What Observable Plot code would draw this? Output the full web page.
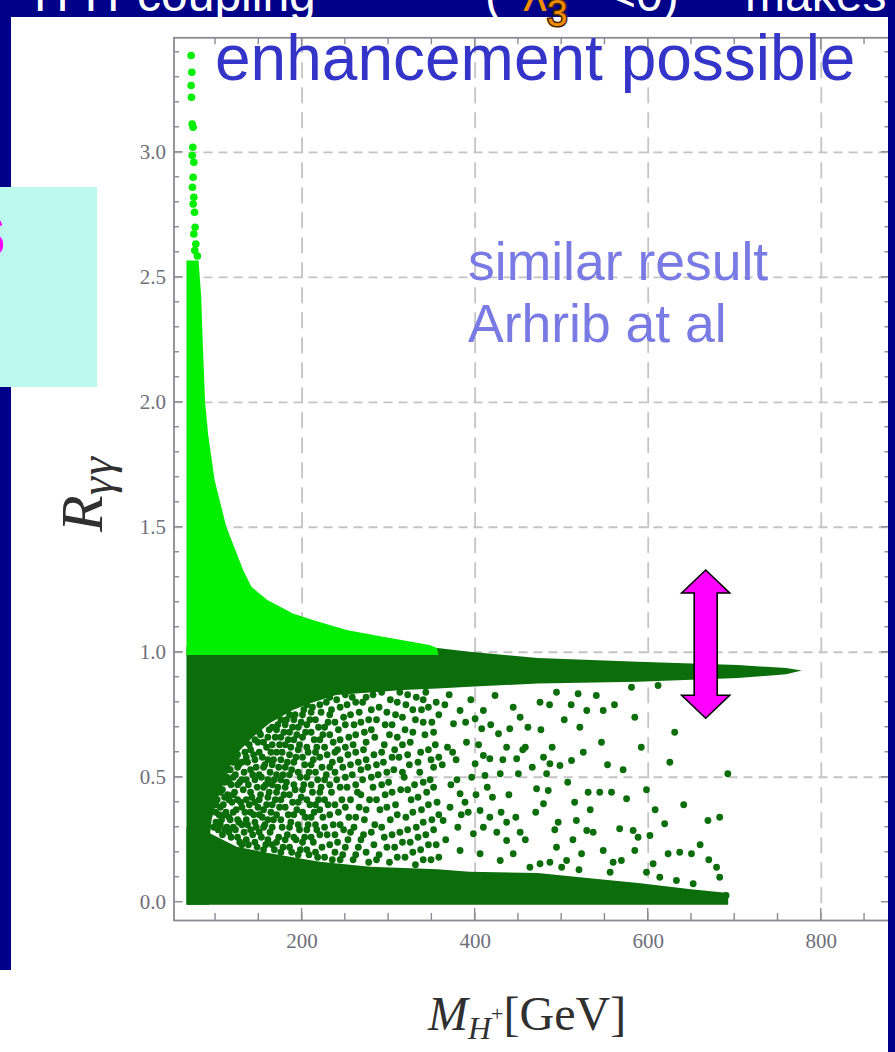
<!DOCTYPE html>
<html>
<head>
<meta charset="utf-8">
<script src="https://cdn.jsdelivr.net/npm/d3@7"></script>
<script src="https://cdn.jsdelivr.net/npm/@observablehq/plot@0.6"></script>
<style>
  html, body { margin: 0; padding: 0; background: #ffffff; }
  #slide { position: relative; width: 895px; height: 1052px; overflow: hidden; background: #ffffff; }
  #chart { position: absolute; left: 0; top: 0; }
  .navy { position: absolute; background: #000088; }
  #notes { position: absolute; left: 0; top: 0; }
</style>
</head>
<body>
<div id="slide">
  <div id="chart"></div>
  <div class="navy" style="left:0;top:0;width:895px;height:17px"></div>
  <div class="navy" style="left:0;top:0;width:11px;height:970px"></div>
  <div class="navy" style="left:888px;top:0;width:7px;height:1052px"></div>
  <div style="position:absolute;left:0;top:187px;width:97px;height:200px;background:#bdf9ef"></div>
  <svg id="notes" width="895" height="1052">
    <g font-family="'Liberation Sans', Arial, sans-serif" fill="#ffffff" font-size="48">
      <text x="34" y="11">H⁺H⁻</text>
      <text x="137" y="11">coupling</text>
      <text x="485" y="11">(</text>
      <text x="608" y="11">&lt;0)</text>
      <text x="745" y="11">makes</text>
    </g>
    <text x="523" y="11" font-family="'Liberation Sans', Arial, sans-serif" font-size="48" fill="#f08c00">λ<tspan dy="15" font-size="37" stroke="#4a2400" stroke-width="3" paint-order="stroke">3</tspan></text>
    <text x="-38" y="257" font-family="'Liberation Sans', Arial, sans-serif" font-weight="bold" font-size="80" fill="#ff00ff">s</text>
    <g font-family="'Liberation Sans', Arial, sans-serif">
      <text x="215" y="80" font-size="64" fill="#3434c8">enhancement possible</text>
      <text x="468" y="280" font-size="53.5" fill="#7a7ae4">similar result</text>
      <text x="468" y="342" font-size="53.5" fill="#7a7ae4">Arhrib at al</text>
    </g>
    <g font-family="'Liberation Serif', 'DejaVu Serif', serif" fill="#303030">
      <text x="428" y="1030" font-size="48"><tspan font-style="italic">M</tspan><tspan font-style="italic" font-size="32" dy="9">H</tspan><tspan font-size="22" dy="-18">+</tspan><tspan dy="9">[GeV]</tspan></text>
      <text transform="translate(102,532) rotate(-90)" font-size="60"><tspan font-style="italic">R</tspan><tspan font-style="italic" font-size="46" dy="10" letter-spacing="2">γγ</tspan></text>
    </g>
  </svg>
</div>
<script>
// Axis extent, ticks and grid
const xDomain = [52, 880];
const yDomain = [-0.073, 3.458];
const xMajorTicks = [200, 400, 600, 800];
const xMinorTicks = [100, 150, 250, 300, 350, 450, 500, 550, 650, 700, 750, 850];
const yMajorTicks = [0, 0.5, 1, 1.5, 2, 2.5, 3];
const yMinorTicks = [0.1, 0.2, 0.3, 0.4, 0.6, 0.7, 0.8, 0.9, 1.1, 1.2, 1.3, 1.4, 1.6, 1.7, 1.8, 1.9,
                     2.1, 2.2, 2.3, 2.4, 2.6, 2.7, 2.8, 2.9, 3.1, 3.2, 3.3, 3.4];
const gridX = [200, 400, 600, 800];
const gridY = [0.5, 1, 1.5, 2, 2.5, 3];

// Enhanced points (R > 1): upper envelope of the dense cloud, M_H+ in GeV
const greenM   = [67, 81, 84, 86, 88.5, 92, 99.5, 113, 132.5, 142, 160.5, 190, 213, 252, 294, 348, 356.5, 358];
const greenTop = [2.565, 2.565, 2.42, 2.22, 2.0, 1.87, 1.687, 1.5, 1.327, 1.26, 1.207, 1.153, 1.127, 1.087, 1.06, 1.027, 1.015, 0.99];
const greenBase = 0.987;
// sparse enhanced points at the light end of the spectrum
const greenTail = [[71.8, 3.387], [72.6, 3.32], [71.8, 3.267], [72.2, 3.22], [73, 3.113], [74.1, 3.1],
  [73.7, 3.02], [73, 2.987], [74.9, 2.96], [74.1, 2.9], [73.3, 2.86], [74.9, 2.82], [74.1, 2.793],
  [75.7, 2.76], [76.4, 2.7], [74.9, 2.673], [77.2, 2.633], [76, 2.607], [79, 2.585]];

// Suppressed points (R < 1): dense band just below 1
const bandM   = [67, 93, 94, 96, 102, 110, 117, 129, 144, 163, 190, 210, 240, 317, 357, 394, 473, 589, 704, 760, 778];
const bandTop = [1.02, 1.02, 1.02, 1.02, 1.02, 1.02, 1.02, 1.02, 1.02, 1.02, 1.02, 1.02, 1.02, 1.02, 1.015, 1.0, 0.975, 0.96, 0.947, 0.935, 0.925];
const bandLow = [-0.012, -0.012, 0.26, 0.327, 0.407, 0.474, 0.54, 0.607, 0.66, 0.714, 0.767, 0.794, 0.827, 0.847, 0.853, 0.86, 0.873, 0.88, 0.895, 0.91, 0.925];
// dense floor near R = 0
const floorM   = [67, 94, 125, 163, 221, 279, 357, 394, 473, 530, 589, 650, 693];
const floorTop = [0.30, 0.274, 0.22, 0.194, 0.16, 0.14, 0.13, 0.12, 0.115, 0.095, 0.075, 0.05, 0.035];
const floorBase = -0.012;

// scattered suppressed points between the floor and the band
const scatterPoints = [
  [98,0.30],[100,0.36],[103,0.29],[104,0.35],[102,0.41],
  [108,0.27],[107,0.33],[109,0.39],[108,0.45],[113,0.30],[112,0.36],[114,0.43],[113,0.50],
  [118,0.26],[117,0.33],[119,0.40],[118,0.47],[117,0.53],[123,0.29],[124,0.37],[122,0.44],[123,0.51],[124,0.57],
  [128,0.24],[127,0.32],[129,0.40],[128,0.48],[127,0.55],[133,0.28],[134,0.36],[132,0.45],[133,0.52],[134,0.60],
  [138,0.23],[137,0.31],[139,0.39],[138,0.47],[137,0.56],[139,0.63],[143,0.27],[144,0.35],[142,0.42],[143,0.51],[144,0.59],
  [148,0.22],[147,0.30],[149,0.38],[148,0.46],[147,0.54],[149,0.64],[153,0.26],[154,0.34],[152,0.43],[153,0.50],[154,0.58],[152,0.67],
  [158,0.23],[157,0.31],[159,0.39],[158,0.47],[157,0.55],[159,0.62],[163,0.28],[164,0.36],[162,0.44],[163,0.52],[164,0.60],[162,0.69],
  [168,0.21],[167,0.33],[169,0.41],[168,0.49],[167,0.57],[169,0.66],[173,0.26],[174,0.38],[172,0.46],[173,0.54],[174,0.63],[172,0.71],
  [178,0.22],[177,0.30],[179,0.43],[178,0.51],[177,0.60],[179,0.68],[183,0.27],[184,0.35],[182,0.48],[183,0.56],[184,0.65],[182,0.73],
  [188,0.20],[187,0.32],[189,0.40],[188,0.53],[187,0.62],[189,0.70],[193,0.25],[194,0.37],[192,0.45],[193,0.58],[194,0.67],[192,0.75],
  [198,0.21],[197,0.29],[199,0.42],[198,0.50],[197,0.63],[199,0.72],[203,0.26],[204,0.34],[202,0.47],[203,0.55],[204,0.68],[202,0.77],
  [208,0.19],[207,0.31],[209,0.39],[208,0.52],[207,0.60],[209,0.73],[213,0.24],[214,0.36],[212,0.44],[213,0.57],[214,0.65],[212,0.78],
  [218,0.18],[217,0.29],[219,0.41],[218,0.49],[217,0.62],[219,0.70],[223,0.22],[224,0.34],[222,0.46],[223,0.54],[224,0.67],[222,0.76],
  [229,0.27],[230,0.39],[228,0.51],[229,0.59],[230,0.72],[228,0.80],[235,0.17],[236,0.31],[234,0.44],[235,0.56],[236,0.64],[234,0.77],
  [241,0.24],[242,0.36],[240,0.49],[241,0.61],[242,0.69],[240,0.81],[247,0.19],[248,0.29],[246,0.41],[247,0.54],[248,0.74],
  [253,0.25],[254,0.34],[252,0.46],[253,0.59],[254,0.66],[252,0.79],[259,0.17],[260,0.30],[258,0.51],[259,0.63],[260,0.71],[258,0.82],
  [265,0.22],[266,0.38],[264,0.44],[265,0.56],[266,0.76],[271,0.27],[272,0.33],[270,0.49],[271,0.61],[272,0.68],[270,0.80],
  [277,0.16],[278,0.41],[276,0.54],[277,0.73],[283,0.23],[284,0.31],[282,0.46],[283,0.59],[284,0.66],[282,0.83],
  [289,0.19],[290,0.37],[288,0.51],[289,0.78],[295,0.26],[296,0.43],[294,0.56],[295,0.63],[296,0.71],
  [301,0.16],[302,0.33],[300,0.48],[301,0.67],[302,0.81],[307,0.22],[308,0.39],[306,0.53],[307,0.61],[308,0.75],
  [313,0.28],[314,0.45],[312,0.58],[313,0.84],[319,0.18],[320,0.34],[318,0.50],[319,0.69],[320,0.79],
  [325,0.24],[326,0.41],[324,0.55],[325,0.64],[331,0.15],[332,0.30],[330,0.47],[331,0.73],[332,0.82],
  [337,0.21],[338,0.37],[336,0.52],[337,0.60],[338,0.77],[343,0.27],[344,0.44],[342,0.67],[343,0.84],
  [349,0.17],[350,0.33],[348,0.49],[349,0.57],[350,0.72],[355,0.23],[356,0.40],[354,0.63],[355,0.80],
  [100.5,0.32],[100.5,0.39],[105.5,0.31],[105.5,0.38],[105.5,0.44],[110.5,0.29],[110.5,0.35],[110.5,0.42],[110.5,0.48],
  [115.5,0.28],[115.5,0.34],[115.5,0.41],[115.5,0.48],[115.5,0.53],[120.5,0.30],[120.5,0.36],[120.5,0.43],[120.5,0.50],[120.5,0.56],
  [125.5,0.26],[125.5,0.33],[125.5,0.41],[125.5,0.47],[125.5,0.54],[125.5,0.59],[130.5,0.23],[130.5,0.31],[130.5,0.38],[130.5,0.49],[130.5,0.56],
  [135.5,0.25],[135.5,0.33],[135.5,0.41],[135.5,0.49],[135.5,0.58],[135.5,0.64],[140.5,0.29],[140.5,0.36],[140.5,0.44],[140.5,0.53],[140.5,0.61],
  [145.5,0.24],[145.5,0.32],[145.5,0.40],[145.5,0.49],[145.5,0.57],[145.5,0.65],[150.5,0.28],[150.5,0.35],[150.5,0.41],[150.5,0.51],[150.5,0.60],[150.5,0.68],
  [155.5,0.21],[155.5,0.30],[155.5,0.37],[155.5,0.46],[155.5,0.54],[155.5,0.64],[160.5,0.25],[160.5,0.33],[160.5,0.42],[160.5,0.49],[160.5,0.57],[160.5,0.66],
  [165.5,0.23],[165.5,0.30],[165.5,0.39],[165.5,0.47],[165.5,0.55],[165.5,0.63],[165.5,0.70],[170.5,0.24],[170.5,0.35],[170.5,0.44],[170.5,0.51],[170.5,0.60],[170.5,0.69],
  [175.5,0.20],[175.5,0.33],[175.5,0.41],[175.5,0.49],[175.5,0.57],[175.5,0.66],[175.5,0.73],[180.5,0.25],[180.5,0.38],[180.5,0.46],[180.5,0.54],[180.5,0.63],[180.5,0.71],
  [185.5,0.22],[185.5,0.30],[185.5,0.43],[185.5,0.51],[185.5,0.59],[185.5,0.68],[185.5,0.75],[190.5,0.26],[190.5,0.35],[190.5,0.47],[190.5,0.56],[190.5,0.65],[190.5,0.73],
  [195.5,0.19],[195.5,0.31],[195.5,0.40],[195.5,0.52],[195.5,0.61],[195.5,0.70],[200.5,0.24],[200.5,0.36],[200.5,0.45],[200.5,0.58],[200.5,0.66],[200.5,0.75],
  [205.5,0.21],[205.5,0.29],[205.5,0.41],[205.5,0.50],[205.5,0.62],[205.5,0.71],[205.5,0.79],[210.5,0.26],[210.5,0.34],[210.5,0.47],[210.5,0.55],[210.5,0.68],[210.5,0.76],
  [215.5,0.20],[215.5,0.31],[215.5,0.39],[215.5,0.52],[215.5,0.60],[215.5,0.73],[220.5,0.27],[220.5,0.37],[220.5,0.44],[220.5,0.58],[220.5,0.65],[220.5,0.79],
  [226,0.18],[226,0.30],[226,0.41],[226,0.49],[226,0.62],[226,0.70],[232,0.23],[232,0.35],[232,0.47],[232,0.54],[232,0.67],[232,0.75],[232,0.82],
  [238,0.20],[238,0.27],[238,0.39],[238,0.52],[238,0.60],[238,0.72],[244,0.17],[244,0.31],[244,0.46],[244,0.57],[244,0.65],[244,0.78],
  [250,0.22],[250,0.38],[250,0.50],[250,0.62],[250,0.71],[250,0.83],[256,0.28],[256,0.41],[256,0.55],[256,0.75],
  [262,0.19],[262,0.34],[262,0.47],[262,0.60],[262,0.67],[262,0.80],[268,0.25],[268,0.43],[268,0.53],[268,0.72],
  [274,0.20],[274,0.37],[274,0.57],[274,0.64],[274,0.82],[280,0.28],[280,0.50],[280,0.69],[280,0.77],
  [286,0.17],[286,0.41],[286,0.55],[286,0.73],[292,0.30],[292,0.47],[292,0.60],[292,0.84],[298,0.22],[298,0.38],[298,0.52],[298,0.76],
  [304,0.27],[304,0.44],[304,0.58],[304,0.71],[310,0.18],[310,0.35],[310,0.66],[310,0.80],[316,0.24],[316,0.52],[316,0.63],[316,0.74],
  [322,0.29],[322,0.45],[322,0.59],[322,0.83],[328,0.20],[328,0.36],[328,0.68],[328,0.77],[334,0.26],[334,0.42],[334,0.56],
  [340,0.17],[340,0.32],[340,0.48],[340,0.72],[340,0.81],[346,0.23],[346,0.39],[346,0.61],[346,0.78],[352,0.29],[352,0.46],[352,0.54],[352,0.68],
  [358,0.18],[358,0.35],[358,0.58],[358,0.75],
  [580.7,0.86],[611.4,0.867],[584.5,0.74],[630.6,0.68],[546,0.64],[521,0.70],[511,0.79],[529,0.767],[540,0.827],
  [548,0.767],[519,0.834],[494,0.84],[486,0.79],[475,0.80],[452,0.74],[461,0.70],[440,0.694],[427,0.674],
  [409.5,0.767],[400,0.734],[382.6,0.767],[375,0.714],[365,0.79],[407.6,0.694],[423,0.827],[436.4,0.62],
  [409.5,0.587],[417,0.574],[400,0.554],[448,0.574],[450,0.514],[429,0.514],[411.4,0.507],[396,0.50],
  [479,0.58],[486.4,0.554],[498,0.547],[511.4,0.567],[482.6,0.514],[692,0.514],[530.6,0.44],[544,0.44],
  [557.6,0.44],[575,0.414],[471,0.454],[484.5,0.447],[479,0.394],[515,0.40],[496,0.32],[517,0.327],
  [529,0.287],[536.4,0.28],[567,0.294],[582.6,0.287],[588.3,0.26],[602,0.267],[619,0.314],[669,0.327],
  [682.6,0.34],[436.4,0.32],[452,0.28],[405.7,0.367],[382.6,0.434],[388.3,0.40],[417,0.34],[409.5,0.30],
  [398,0.274],[371,0.38],[363,0.327],[436.4,0.247],[494,0.22],[548,0.207],[523,0.194],[623,0.194],
  [636.4,0.20],[650,0.194],[584.5,0.207],[569,0.167],[559.5,0.16],[605.7,0.154],[679,0.14],[682.6,0.10],
  [475,0.154],[486.4,0.16],[505.7,0.167],[463.3,0.14],[429,0.167],[444,0.194],[382.6,0.207],[405.7,0.194],
  [652,0.074],[632.6,0.087],[613.4,0.10],[690,0.027],
  [368,0.62],[378,0.57],[390,0.64],[372,0.47],[392,0.36],[380,0.30],[366,0.25],[420,0.42],[430,0.36],[458,0.62],
  [362,0.55],[370,0.83],[374,0.60],[379,0.49],[384,0.35],[389,0.72],[395,0.81],[401,0.43],[404,0.63],[414,0.46],
  [418,0.71],[425,0.28],[432,0.57],[439,0.43],[444,0.78],[447,0.34],[455,0.61],[458,0.25],[466,0.54],[470,0.36],
  [476,0.69],[489,0.62],[492,0.29],[503,0.73],[507,0.48],[513,0.25],[525,0.60],[533,0.37],[553,0.55],[561,0.79],
  [571,0.53],[592,0.62],[598,0.45],[608,0.37],[625,0.56],[641,0.39],[660,0.23],[670,0.17],[598,0.12],[556,0.12],
  [520,0.13],[500,0.14]
];

// double arrow annotation: M_H+ position and R span
const arrowM = 667;
const arrowR = [0.734, 1.327];

const darkGreen = "#0b6e0b";
const lightGreen = "#00ee00";
const frameColor = "#8a8a94";

const greenRows = greenM.map((M, i) => ({M, lo: greenBase, hi: greenTop[i]}));
const bandRows = bandM.map((M, i) => ({M, lo: bandLow[i], hi: bandTop[i]}));
const floorRows = floorM.map((M, i) => ({M, lo: floorBase, hi: floorTop[i]}));

// inward frame ticks on all four sides
function frameTicks(index, {x, y}) {
  const left = x(xDomain[0]), right = x(xDomain[1]);
  const top = y(yDomain[1]), bottom = y(yDomain[0]);
  const g = d3.create("svg:g").attr("stroke", frameColor).attr("stroke-width", 1.4);
  const seg = (x1, y1, x2, y2) => g.append("line").attr("x1", x1).attr("y1", y1).attr("x2", x2).attr("y2", y2);
  for (const v of xMajorTicks) { const p = x(v); seg(p, bottom, p, bottom - 12); seg(p, top, p, top + 12); }
  for (const v of xMinorTicks) { const p = x(v); seg(p, bottom, p, bottom - 7); seg(p, top, p, top + 7); }
  for (const v of yMajorTicks) { const p = y(v); seg(left, p, left + 9, p); seg(right, p, right - 9, p); }
  for (const v of yMinorTicks) { const p = y(v); seg(left, p, left + 5.5, p); seg(right, p, right - 5.5, p); }
  return g.node();
}

// block double arrow
function doubleArrow(index, {x, y}) {
  const cx = x(arrowM), yt = y(arrowR[1]), yb = y(arrowR[0]);
  const hw = 24, sw = 11.5, hl = 23;
  const pts = [[cx, yt], [cx + hw, yt + hl], [cx + sw, yt + hl], [cx + sw, yb - hl], [cx + hw, yb - hl],
               [cx, yb], [cx - hw, yb - hl], [cx - sw, yb - hl], [cx - sw, yt + hl], [cx - hw, yt + hl]];
  return d3.create("svg:path")
    .attr("d", "M" + pts.map(p => p.join(",")).join("L") + "Z")
    .attr("fill", "#ff00ff").attr("stroke", "#000").attr("stroke-width", 1.6)
    .attr("stroke-linejoin", "miter").node();
}

const chart = Plot.plot({
  width: 895,
  height: 1052,
  marginLeft: 173.5,
  marginRight: 5,
  marginTop: 37.3,
  marginBottom: 132,
  x: {domain: xDomain, axis: null},
  y: {domain: yDomain, axis: null},
  style: {background: "transparent", overflow: "visible"},
  marks: [
    Plot.ruleX(gridX, {stroke: "#c4c4c4", strokeWidth: 1.8, strokeDasharray: "16,9"}),
    Plot.ruleY(gridY, {stroke: "#c4c4c4", strokeWidth: 1.8, strokeDasharray: "9,6"}),
    Plot.areaY(bandRows, {x: "M", y1: "lo", y2: "hi", fill: darkGreen}),
    Plot.areaY(floorRows, {x: "M", y1: "lo", y2: "hi", fill: darkGreen}),
    Plot.dot(scatterPoints, {x: d => d[0], y: d => d[1], r: 3.4, fill: darkGreen}),
    Plot.areaY(greenRows, {x: "M", y1: "lo", y2: "hi", fill: lightGreen}),
    Plot.dot(greenTail, {x: d => d[0], y: d => d[1], r: 3.8, fill: lightGreen}),
    Plot.frame({stroke: frameColor, strokeWidth: 1.8}),
    frameTicks,
    Plot.text(xMajorTicks, {x: d => d, y: () => yDomain[0], dy: 21, text: d => String(d),
      fontFamily: "'Liberation Serif', 'DejaVu Serif', serif", fontSize: 21, fill: "#6f6f7a"}),
    Plot.text(yMajorTicks, {x: () => xDomain[0], y: d => d, dx: -8, textAnchor: "end", text: d => d.toFixed(1),
      fontFamily: "'Liberation Serif', 'DejaVu Serif', serif", fontSize: 21, fill: "#6f6f7a"}),
    doubleArrow
  ]
});
document.getElementById("chart").appendChild(chart);
</script>
</body>
</html>
